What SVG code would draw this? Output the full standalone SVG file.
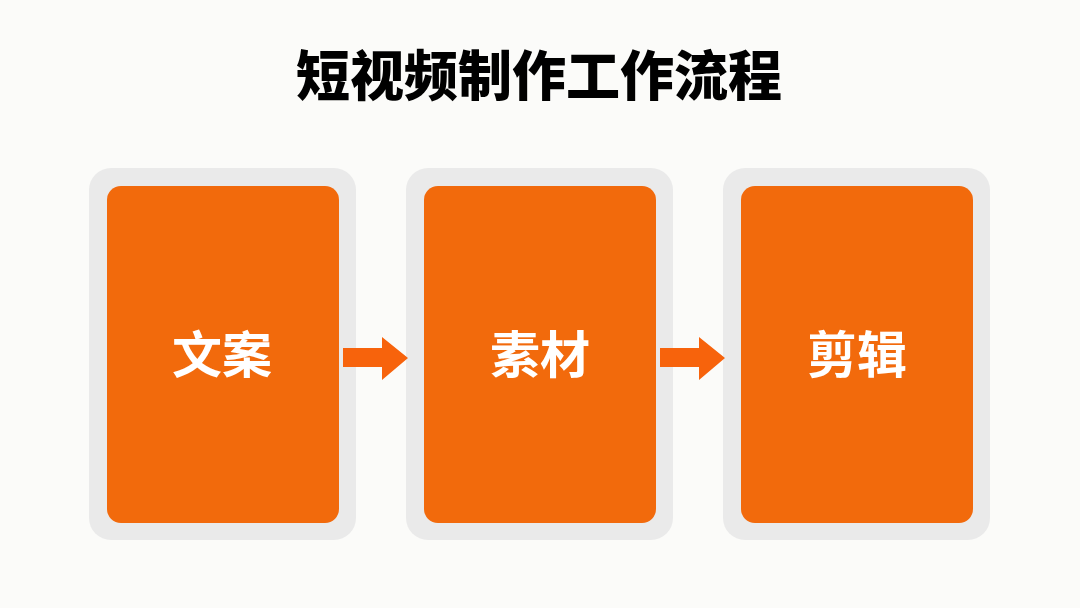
<svg xmlns="http://www.w3.org/2000/svg" width="1080" height="608" viewBox="0 0 1080 608">
<style>
.frame{fill:#eaeaea}
.card{fill:#f26a0c}
.lbl{font-family:"Noto Sans CJK SC","Noto Sans",sans-serif;font-weight:700;font-size:50px;fill:#ffffff;text-anchor:middle}
.title{font-family:"Noto Sans CJK SC","Noto Sans",sans-serif;font-weight:900;font-size:54px;fill:#000000;text-anchor:middle}
.arr{fill:#f7630c}
</style>
<rect width="1080" height="608" fill="#fbfbf9"/>
<text class="title" x="539" y="96">短视频制作工作流程</text>
<g id="node-wenan">
<rect class="frame" x="89" y="168" width="267" height="372" rx="22"/>
<rect class="card" x="107" y="186" width="232" height="337" rx="14"/>
<text class="lbl" x="222" y="373">文案</text>
</g>
<g id="node-sucai">
<rect class="frame" x="406" y="168" width="267" height="372" rx="22"/>
<rect class="card" x="424" y="186" width="232" height="337" rx="14"/>
<text class="lbl" x="540" y="373">素材</text>
</g>
<g id="node-jianji">
<rect class="frame" x="723" y="168" width="267" height="372" rx="22"/>
<rect class="card" x="741" y="186" width="232" height="337" rx="14"/>
<text class="lbl" x="857" y="373">剪辑</text>
</g>
<g id="connectors">
<polygon class="arr" points="343,348 382,348 382,337 408,358 382,380 382,367 343,367"/>
<polygon class="arr" points="660,348 699,348 699,337 725,358 699,380 699,367 660,367"/>
</g>
</svg>
